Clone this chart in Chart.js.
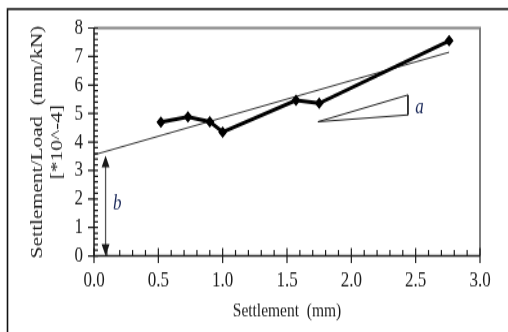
<!DOCTYPE html>
<html>
<head>
<meta charset="utf-8">
<script src="https://cdn.jsdelivr.net/npm/chart.js@4/dist/chart.umd.min.js"></script>
<style>
  html, body { margin: 0; padding: 0; background: #fff; overflow: hidden; }
  #page { width: 508px; height: 332px; position: relative; }
  /* the reference is stretched vertically, so draw at 508x255 and stretch */
  #wrap { position: absolute; left: 0; top: 0; width: 508px; height: 255px; transform: scaleY(1.302); transform-origin: 0 0; }
  #wrap canvas { display: block; }
</style>
</head>
<body>
<div id="page"><div id="wrap"><canvas id="chart" width="508" height="255"></canvas></div></div>
<script>
// measured series
const settlement = [0.52, 0.73, 0.9, 1.0, 1.57, 1.75, 2.76];
const ratio = [4.7, 4.88, 4.71, 4.35, 5.46, 5.36, 7.55];

// fitted straight line
const trendX = [0.0, 2.76];
const trendY = [3.55, 7.15];

// slope triangle "a"
const triX = [1.74, 2.44, 2.44, 1.74];
const triY = [4.71, 5.65, 4.95, 4.71];

// intercept arrow "b"
const arrowX = 0.09;
const arrowY = [0, 3.52];

const xTicks = [0, 0.5, 1, 1.5, 2, 2.5, 3];
const yTicks = [0, 1, 2, 3, 4, 5, 6, 7, 8];

const serif = '"Liberation Serif", "Times New Roman", serif';
const ink = '#1a1a1a';

const toXY = (xs, ys) => xs.map((x, i) => ({ x: x, y: ys[i] }));

// ticks, frame, arrow and labels
const extras = {
  id: 'extras',
  afterDatasetsDraw(chart) {
    const { ctx, chartArea: ca } = chart;
    const xs = chart.scales.x, ys = chart.scales.y;
    ctx.save();

    // top and right border of the plot
    ctx.strokeStyle = '#808080';
    ctx.lineWidth = 2;
    ctx.beginPath();
    ctx.moveTo(ca.left, ca.top);
    ctx.lineTo(ca.right, ca.top);
    ctx.lineTo(ca.right, ca.bottom);
    ctx.stroke();

    // axis lines
    ctx.strokeStyle = ink;
    ctx.lineWidth = 1.5;
    ctx.beginPath();
    ctx.moveTo(ca.left, ca.top);
    ctx.lineTo(ca.left, ca.bottom);
    ctx.lineTo(ca.right, ca.bottom);
    ctx.stroke();

    // tick marks
    ctx.lineWidth = 1.2;
    ctx.beginPath();
    for (let i = 0; i <= 30; i++) {
      const px = xs.getPixelForValue(i / 10);
      if (i % 5 === 0) {
        ctx.moveTo(px, ca.bottom - 6);
        ctx.lineTo(px, ca.bottom + 5.5);
      } else {
        ctx.moveTo(px, ca.bottom - 4.5);
        ctx.lineTo(px, ca.bottom);
      }
    }
    for (let i = 0; i <= 40; i++) {
      const py = ys.getPixelForValue(i / 5);
      if (i % 5 === 0) {
        ctx.moveTo(ca.left - 6, py);
        ctx.lineTo(ca.left + 4, py);
      } else {
        ctx.moveTo(ca.left, py);
        ctx.lineTo(ca.left + 4, py);
      }
    }
    ctx.stroke();

    // arrow b
    const ax = xs.getPixelForValue(arrowX);
    const a0 = ys.getPixelForValue(arrowY[0]);
    const a1 = ys.getPixelForValue(arrowY[1]);
    ctx.strokeStyle = '#555';
    ctx.lineWidth = 1.3;
    ctx.beginPath();
    ctx.moveTo(ax, a1 + 8);
    ctx.lineTo(ax, a0 - 8);
    ctx.stroke();
    ctx.fillStyle = ink;
    ctx.beginPath();
    ctx.moveTo(ax, a1);
    ctx.lineTo(ax - 4, a1 + 9);
    ctx.lineTo(ax + 4, a1 + 9);
    ctx.closePath();
    ctx.moveTo(ax, a0);
    ctx.lineTo(ax - 4, a0 - 9);
    ctx.lineTo(ax + 4, a0 - 9);
    ctx.closePath();
    ctx.fill();

    // labels a and b
    ctx.fillStyle = '#1c2a5a';
    ctx.font = 'italic 17px ' + serif;
    ctx.textAlign = 'center';
    ctx.textBaseline = 'middle';
    ctx.fillText('a', xs.getPixelForValue(2.53), ys.getPixelForValue(5.2));
    ctx.fillText('b', xs.getPixelForValue(0.18), ys.getPixelForValue(1.82));

    // outer figure frame (left and top only)
    ctx.strokeStyle = '#111';
    ctx.lineWidth = 1.6;
    ctx.beginPath();
    ctx.moveTo(7.5, 255);
    ctx.lineTo(7.5, 7);
    ctx.lineTo(508, 7);
    ctx.stroke();

    ctx.restore();
  }
};

const chart = new Chart(document.getElementById('chart'), {
  type: 'scatter',
  data: {
    datasets: [
      {
        data: toXY(settlement, ratio),
        showLine: true,
        borderColor: '#000',
        backgroundColor: '#000',
        borderWidth: 3,
        pointStyle: 'rectRot',
        pointRadius: 4.5,
        pointBorderWidth: 0
      },
      {
        data: toXY(trendX, trendY),
        showLine: true,
        borderColor: '#333',
        borderWidth: 1,
        pointRadius: 0
      },
      {
        data: toXY(triX, triY),
        showLine: true,
        borderColor: '#222',
        borderWidth: 1,
        pointRadius: 0
      }
    ]
  },
  options: {
    responsive: false,
    animation: false,
    events: [],
    layout: { padding: { top: 21.5, right: 28, bottom: 0, left: 0 } },
    plugins: { legend: { display: false }, tooltip: { enabled: false } },
    scales: {
      x: {
        type: 'linear',
        min: 0,
        max: 3,
        afterBuildTicks: s => { s.ticks = xTicks.map(v => ({ value: v })); },
        afterFit: s => { s.height = 58.4; },
        grid: { display: false, drawTicks: false },
        border: { display: false },
        ticks: {
          autoSkip: false,
          maxRotation: 0,
          padding: 9,
          color: ink,
          font: { family: serif, size: 17 },
          callback: v => v.toFixed(1)
        },
        title: {
          display: true,
          text: 'Settlement  (mm)',
          color: ink,
          font: { family: serif, size: 15.5 },
          padding: { top: 0, bottom: 6.5 }
        }
      },
      y: {
        type: 'linear',
        min: 0,
        max: 8,
        afterBuildTicks: s => { s.ticks = yTicks.map(v => ({ value: v })); },
        afterFit: s => { s.width = 94; },
        grid: { display: false, drawTicks: false },
        border: { display: false },
        ticks: {
          autoSkip: false,
          padding: 11,
          color: ink,
          font: { family: serif, size: 17 },
          callback: v => String(v)
        },
        title: {
          display: true,
          text: ['Settlement/Load  (mm/kN)', '[*10^-4]'],
          color: ink,
          font: { family: serif, size: 16.5, lineHeight: 1.2 },
          padding: { top: 28, bottom: 0 }
        }
      }
    }
  },
  plugins: [extras]
});
</script>
</body>
</html>
